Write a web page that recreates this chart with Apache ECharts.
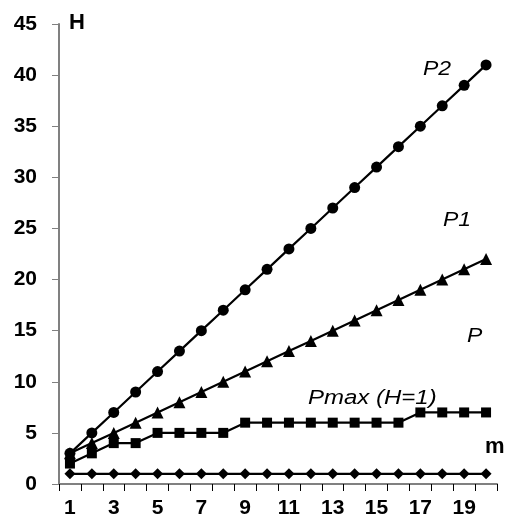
<!DOCTYPE html>
<html><head><meta charset="utf-8">
<script src="https://cdn.jsdelivr.net/npm/echarts@6/dist/echarts.min.js"></script>
<style>html,body{margin:0;padding:0;background:#fff}#c{width:507px;height:525px}</style>
</head><body><div id="c"></div>
<script>
const categories = ['1','2','3','4','5','6','7','8','9','10','11','12','13','14','15','16','17','18','19','20'];
const P2 = [3,5,7,9,11,13,15,17,19,21,23,25,27,29,31,33,35,37,39,41];
const P1 = [3,4,5,6,7,8,9,10,11,12,13,14,15,16,17,18,19,20,21,22];
const Pmax = [2,3,4,4,5,5,5,5,6,6,6,6,6,6,6,6,7,7,7,7];
const M = [1,1,1,1,1,1,1,1,1,1,1,1,1,1,1,1,1,1,1,1];
const yTicks = [0,5,10,15,20,25,30,35,40,45];

const chart = echarts.init(document.getElementById('c'), null, {renderer:'canvas'});
const font = 'Arial, "Liberation Sans", sans-serif';
function ser(name, data, symbol, size){
  return {name, type:'line', data, symbol, symbolSize:size, showSymbol:true,
    lineStyle:{color:'#000', width:2.2}, itemStyle:{color:'#000', borderWidth:0},
    emphasis:{disabled:true}, animation:false, z: 3};
}
const note = (t, x, y, italic, bold, size, sx) => ({type:'text', x:x, y:y, scaleX:sx||1,
  style:{text:t, fill:'#000', textAlign:'left', textVerticalAlign:'middle',
    font:(italic?'italic ':'')+(bold?'bold ':'')+size+'px '+font}});
chart.setOption({
  animation:false,
  grid:{left:59, right:10, top:24, bottom:41, containLabel:false},
  xAxis:{type:'category', data:categories, boundaryGap:true,
    axisLine:{lineStyle:{color:'#808080', width:2}},
    axisTick:{show:true, length:7, alignWithLabel:false, interval:0, lineStyle:{color:'#000', width:1}},
    axisLabel:{interval:1, margin:14, color:'#000', fontSize:21, fontWeight:'bold', fontFamily:font},
    splitLine:{show:false}},
  yAxis:{type:'value', min:yTicks[0], max:yTicks[yTicks.length-1], interval:5,
    axisLine:{show:true, lineStyle:{color:'#808080', width:2}},
    axisTick:{show:true, length:7, lineStyle:{color:'#808080', width:1}},
    axisLabel:{margin:22, color:'#000', fontSize:21, fontWeight:'bold', fontFamily:font},
    splitLine:{show:false}},
  series:[
    ser('P2', P2, 'circle', 11),
    ser('P1', P1, 'triangle', 12),
    ser('Pmax', Pmax, 'rect', 10),
    ser('m', M, 'diamond', 11)
  ],
  graphic:[
    note('H', 69, 23, false, true, 22, 1),
    note('P2', 423, 69, true, false, 20, 1.15),
    note('P1', 443, 220, true, false, 20, 1.15),
    note('P', 467, 336, true, false, 20, 1.15),
    note('Pmax (H=1)', 308, 398, true, false, 20, 1.2),
    note('m', 485, 447, false, true, 22, 1)
  ]
});
</script></body></html>
